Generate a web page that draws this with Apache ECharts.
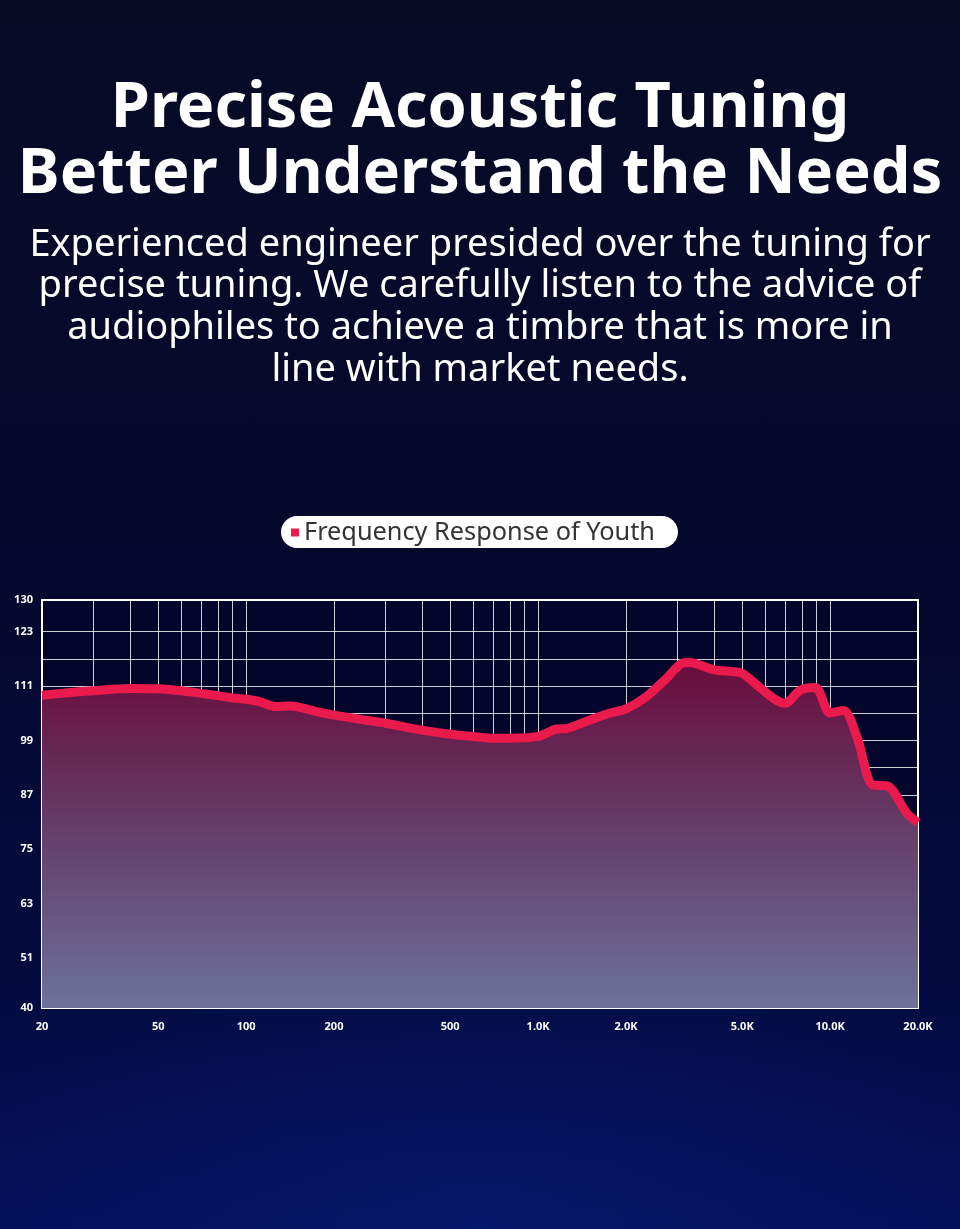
<!DOCTYPE html>
<html>
<head>
<meta charset="utf-8">
<script src="https://cdn.jsdelivr.net/npm/echarts@6/dist/echarts.min.js"></script>
<style>
  html, body { margin: 0; padding: 0; }
  #box {
    width: 960px; height: 1229px;
    background:
      radial-gradient(ellipse 60% 22% at 50% 100%, rgba(6,28,120,0.55), rgba(6,28,120,0) 100%),
      linear-gradient(to bottom, #080b26 0%, #05082c 45%, #030b40 80%, #04115a 100%);
  }
</style>
</head>
<body>
<div id="box"></div>
<script>
// frequency (Hz) and level (dB)
var freqs = [20, 25, 30, 40, 50, 60, 70, 80, 90, 100, 111, 126, 141, 153, 179, 200,
             300, 400, 500, 600, 700, 800, 1000, 1150, 1260, 1460, 1750, 2000, 2350,
             2750, 3100, 3300, 4000, 4650, 5000, 5600, 6400, 7000, 7900, 8900,
             10000, 11100, 12400, 14000, 15700, 18300, 20000];
var levels = [109.0, 109.6, 110.0, 110.5, 110.4, 110.0, 109.4, 108.9, 108.4, 108.1, 107.6, 106.5, 106.6, 106.3, 105.2, 104.6,
              102.8, 101.3, 100.4, 99.9, 99.5, 99.5, 99.9, 101.5, 101.7, 103.2, 105.0, 106.0, 108.7,
              112.7, 116.0, 116.2, 114.6, 114.2, 113.8, 111.3, 108.3, 107.2, 110.1, 110.7,
              105.1, 105.6, 99.5, 89.2, 89.0, 83.0, 80.9];

var xGridFreqs = [20, 30, 40, 50, 60, 70, 80, 90, 100, 200, 300, 400, 500, 600, 700, 800, 900,
                  1000, 2000, 3000, 4000, 5000, 6000, 7000, 8000, 9000, 10000, 20000];
var xLabelFreqs = [20, 50, 100, 200, 500, 1000, 2000, 5000, 10000, 20000];
var yGridVals = [40, 45, 51, 57, 63, 69, 75, 81, 87, 93, 99, 105, 111, 117, 123, 130];
var yLabelVals = [40, 51, 63, 75, 87, 99, 111, 123, 130];

var headLines = ['Precise Acoustic Tuning', 'Better Understand the Needs'];
var bodyLines = ['Experienced engineer presided over the tuning for',
                 'precise tuning. We carefully listen to the advice of',
                 'audiophiles to achieve a timbre that is more in',
                 'line with market needs.'];
var seriesName = 'Frequency Response of Youth';

var lg = function (f) { return Math.log10(f); };
var points = freqs.map(function (f, i) { return [lg(f), levels[i]]; });

var myChart = echarts.init(document.getElementById('box'));
var option = {
  backgroundColor: 'transparent',
  graphic: [
    {
      type: 'text',
      x: 480,
      y: 76,
      style: {
        text: headLines.join('\n'),
        fill: '#fff',
        font: 'bold 63px "Noto Sans"',
        lineHeight: 66,
        align: 'center',
        verticalAlign: 'top'
      }
    },
    {
      type: 'text',
      x: 480,
      y: 224,
      style: {
        text: bodyLines.join('\n'),
        fill: '#fff',
        font: '38px "Noto Sans"',
        lineHeight: 41.7,
        align: 'center',
        verticalAlign: 'top'
      }
    }
  ],
  legend: {
    data: [seriesName],
    top: 516,
    left: 281,
    icon: 'rect',
    itemWidth: 8,
    itemHeight: 8,
    itemGap: 0,
    backgroundColor: '#fff',
    borderRadius: 16,
    padding: [4, 23, 3, 10],
    textStyle: {
      color: '#333',
      fontSize: 25.3,
      fontFamily: 'Noto Sans'
    }
  },
  grid: {
    left: 42,
    right: 42,
    top: 600,
    bottom: 221,
    show: true,
    backgroundColor: '#03062a',
    borderColor: '#fff',
    borderWidth: 2
  },
  xAxis: {
    type: 'value',
    min: lg(20),
    max: lg(20000),
    axisLine: { show: false },
    axisTick: { show: false, customValues: xGridFreqs.map(lg) },
    splitLine: { show: true, lineStyle: { color: 'rgba(255,255,255,0.8)', width: 1 } },
    axisLabel: {
      customValues: xLabelFreqs.map(lg),
      color: '#fff',
      fontSize: 11,
      fontWeight: 'bold',
      fontFamily: 'Noto Sans',
      margin: 13,
      formatter: function (v) {
        var f = Math.round(Math.pow(10, v));
        return f >= 1000 ? (f / 1000).toFixed(1) + 'K' : String(f);
      }
    }
  },
  yAxis: {
    type: 'value',
    min: 40,
    max: 130,
    axisLine: { show: false },
    axisTick: { show: false, customValues: yGridVals },
    splitLine: { show: true, lineStyle: { color: 'rgba(255,255,255,0.8)', width: 1 } },
    axisLabel: {
      customValues: yLabelVals,
      color: '#fff',
      fontSize: 11,
      fontWeight: 'bold',
      fontFamily: 'Noto Sans',
      margin: 9
    }
  },
  series: [
    {
      name: seriesName,
      type: 'line',
      data: points,
      smooth: 0.3,
      symbol: 'none',
      color: '#ea1a4c',
      lineStyle: { width: 9, color: '#ea1a4c' },
      areaStyle: {
        origin: 'start',
        opacity: 1,
        color: {
          type: 'linear', x: 0, y: 0, x2: 0, y2: 1,
          colorStops: [
            { offset: 0, color: '#6a0c3c' },
            { offset: 0.45, color: '#643a66' },
            { offset: 1, color: '#6d729a' }
          ]
        }
      },
      z: 3
    }
  ]
};
myChart.setOption(option);
</script>
</body>
</html>
